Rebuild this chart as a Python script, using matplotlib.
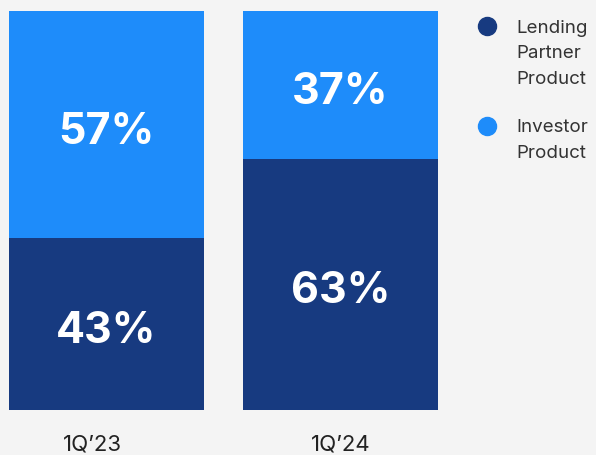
import matplotlib.pyplot as plt
from matplotlib.transforms import offset_copy

quarters = ["1Q\u201923", "1Q\u201924"]
lending_partner = [43, 63]
investor = [57, 37]
series_names = ["Lending\nPartner\nProduct", "Investor\nProduct"]

dark_blue = "#173a80"
light_blue = "#1e8cfa"
bg = "#f4f4f4"

plt.rcParams['font.family'] = ['Inter', 'DejaVu Sans']

W, H = 596, 455
fig = plt.figure(figsize=(W / 100, H / 100), dpi=100, facecolor=bg)
ax = fig.add_axes([0, 45 / H, 450 / W, 399 / H])
ax.set_facecolor(bg)

x = range(len(quarters))
w = 195 / 234
ax.bar(x, lending_partner, width=w, color=dark_blue)
ax.bar(x, investor, width=w, bottom=lending_partner, color=light_blue)

# baseline a bit below segment centre so the digits sit like the original
lab_tr = offset_copy(ax.transData, fig=fig, y=-19, units='dots')
for i in x:
    ax.text(i, lending_partner[i] / 2, f"{lending_partner[i]}%", ha="center", va="baseline",
            color="white", fontsize=31, fontweight="bold", transform=lab_tr)
    ax.text(i, lending_partner[i] + investor[i] / 2, f"{investor[i]}%", ha="center", va="baseline",
            color="white", fontsize=31, fontweight="bold", transform=lab_tr)

ax.set_xlim(-106.5 / 234, (450 - 106.5) / 234)
ax.set_ylim(0, 100)
ax.set_xticks([])
ax.set_yticks([])
for s in ax.spines.values():
    s.set_visible(False)

# category labels under the bars
x_shift = [-14, 0]
for i in x:
    tr = offset_copy(ax.get_xaxis_transform(), fig=fig, x=x_shift[i], y=-40, units='dots')
    ax.text(i, 0, quarters[i], ha="center", va="baseline", fontsize=16,
            color="#222222", transform=tr)

# legend: circle next to the first line of each label
leg_colors = [dark_blue, light_blue]
first_base = [31, 131]
last_base = [84, 157.5]
for name, c, y0, y1 in zip(series_names, leg_colors, first_base, last_base):
    fig.text(516 / W, 1 - y1 / H, name, ha="left", va="baseline", fontsize=13.5,
             color="#333333", linespacing=1.66)
    ax.plot([487 / W], [1 - (y0 - 5) / H], marker="o", markersize=13, color=c,
            linestyle="", transform=fig.transFigure, clip_on=False)

fig.savefig("out.png", dpi=100, facecolor=bg)
